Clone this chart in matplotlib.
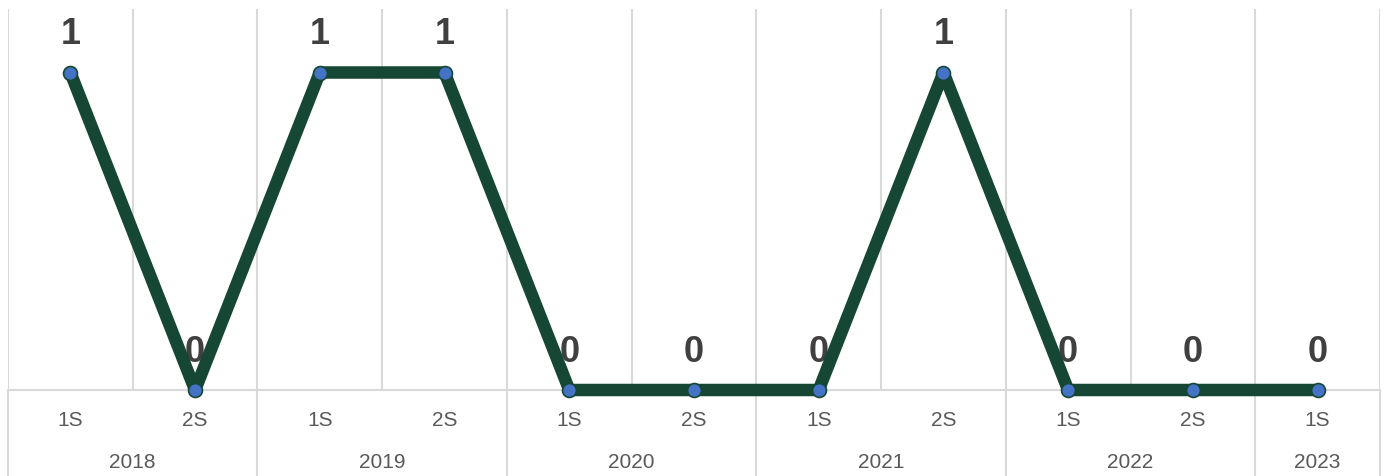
import numpy as np
import matplotlib.pyplot as plt
import matplotlib.transforms as mtransforms

# data
years = ['2018', '2019', '2020', '2021', '2022', '2023']
semesters = [['1S', '2S'], ['1S', '2S'], ['1S', '2S'], ['1S', '2S'], ['1S', '2S'], ['1S']]
values = [1, 0, 1, 1, 0, 0, 0, 1, 0, 0, 0]

sem_labels = [s for grp in semesters for s in grp]
x = np.arange(len(values))

plt.rcParams['font.family'] = ['Liberation Sans', 'DejaVu Sans']

W, H = 1390, 477
fig = plt.figure(figsize=(W / 100, H / 100), dpi=100)
left, right, top, axis_y = 8, 1380, 10, 391
ax = fig.add_axes([left / W, (H - axis_y) / H, (right - left) / W, (axis_y - top) / H])

grid_c = '#d9d9d9'
ax.set_xlim(-0.5, len(values) - 0.5)
ax.set_ylim(0, 1.2)

# category gridlines
for b in np.arange(-0.5, len(values), 1.0):
    ax.axvline(b, color=grid_c, lw=1.5, zorder=0)
ax.axhline(0, color=grid_c, lw=1.5, zorder=0, clip_on=False)

# year separators below the axis
trans = mtransforms.blended_transform_factory(ax.transData, ax.transAxes)
below = -(H - axis_y) / (axis_y - top)
edges = np.cumsum([0] + [len(s) for s in semesters]) - 0.5
for e in edges:
    ax.plot([e, e], [0, below], color=grid_c, lw=1.5, transform=trans,
            clip_on=False, solid_capstyle='butt')

# line and markers
ax.plot(x, values, color='#154734', lw=9, solid_capstyle='round',
        solid_joinstyle='round', zorder=3, clip_on=False)
ax.plot(x, values, 'o', ms=10, mfc='#4472C4', mec='#154734', mew=1.2,
        zorder=4, clip_on=False)

# data labels
for xi, v in zip(x, values):
    ax.annotate(str(v), (xi, v), xytext=(0, 28), textcoords='offset points',
                ha='center', va='center', fontsize=26, fontweight='bold',
                color='#404040', zorder=2)

# semester labels
for xi, s in zip(x, sem_labels):
    ax.text(xi, -30 / (axis_y - top), s, transform=trans, ha='center', va='center',
            fontsize=15, color='#595959')
# year labels
for i, yr in enumerate(years):
    ax.text((edges[i] + edges[i + 1]) / 2, -72 / (axis_y - top), yr, transform=trans,
            ha='center', va='center', fontsize=15, color='#595959')

ax.set_xticks([])
ax.set_yticks([])
for sp in ax.spines.values():
    sp.set_visible(False)

fig.savefig('out.png', dpi=100, facecolor='white')
